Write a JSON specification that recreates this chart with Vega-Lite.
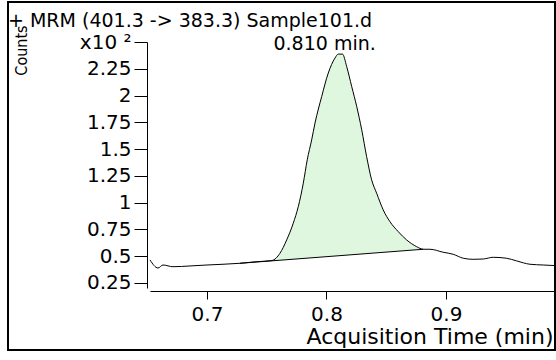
{
  "$schema": "https://vega.github.io/schema/vega-lite/v6.json",
  "width": 547,
  "height": 348,
  "autosize": {"type": "none"},
  "padding": {"left": 8, "top": 2, "right": 1, "bottom": 10},
  "background": "#ffffff",
  "title": {
    "text": "+ MRM (401.3 -> 383.3) Sample101.d",
    "anchor": "start",
    "frame": "group",
    "orient": "top",
    "offset": -23,
    "baseline": "alphabetic",
    "dx": 0,
    "dy": 21,
    "font": "DejaVu Sans",
    "fontSize": 19,
    "fontWeight": "normal",
    "color": "#000000"
  },
  "datasets": {
    "curve": [
      {"t": 0.6523, "c": 0.465},
      {"t": 0.6590, "c": 0.390},
      {"t": 0.6632, "c": 0.418},
      {"t": 0.6715, "c": 0.402},
      {"t": 0.6858, "c": 0.409},
      {"t": 0.7000, "c": 0.418},
      {"t": 0.7134, "c": 0.425},
      {"t": 0.7276, "c": 0.434},
      {"t": 0.7418, "c": 0.449},
      {"t": 0.7544, "c": 0.460},
      {"t": 0.7611, "c": 0.528},
      {"t": 0.7667, "c": 0.652},
      {"t": 0.7722, "c": 0.808},
      {"t": 0.7764, "c": 0.963},
      {"t": 0.7806, "c": 1.182},
      {"t": 0.7839, "c": 1.400},
      {"t": 0.7876, "c": 1.586},
      {"t": 0.7904, "c": 1.743},
      {"t": 0.7960, "c": 1.991},
      {"t": 0.8015, "c": 2.210},
      {"t": 0.8071, "c": 2.350},
      {"t": 0.8099, "c": 2.387},
      {"t": 0.8134, "c": 2.387},
      {"t": 0.8169, "c": 2.271},
      {"t": 0.8211, "c": 2.085},
      {"t": 0.8253, "c": 1.898},
      {"t": 0.8295, "c": 1.680},
      {"t": 0.8336, "c": 1.430},
      {"t": 0.8378, "c": 1.213},
      {"t": 0.8420, "c": 1.088},
      {"t": 0.8475, "c": 0.932},
      {"t": 0.8531, "c": 0.823},
      {"t": 0.8601, "c": 0.729},
      {"t": 0.8671, "c": 0.652},
      {"t": 0.8755, "c": 0.589},
      {"t": 0.8810, "c": 0.565},
      {"t": 0.8866, "c": 0.565},
      {"t": 0.8977, "c": 0.537},
      {"t": 0.9061, "c": 0.518},
      {"t": 0.9145, "c": 0.481},
      {"t": 0.9228, "c": 0.471},
      {"t": 0.9312, "c": 0.474},
      {"t": 0.9396, "c": 0.490},
      {"t": 0.9508, "c": 0.481},
      {"t": 0.9592, "c": 0.456},
      {"t": 0.9703, "c": 0.425},
      {"t": 0.9814, "c": 0.418},
      {"t": 0.9921, "c": 0.412}
    ],
    "peak": [
      {"t": 0.7276, "c": 0.434, "b": 0.434},
      {"t": 0.7418, "c": 0.449, "b": 0.446},
      {"t": 0.7544, "c": 0.460, "b": 0.457},
      {"t": 0.7611, "c": 0.528, "b": 0.463},
      {"t": 0.7667, "c": 0.652, "b": 0.467},
      {"t": 0.7722, "c": 0.808, "b": 0.472},
      {"t": 0.7764, "c": 0.963, "b": 0.476},
      {"t": 0.7806, "c": 1.182, "b": 0.479},
      {"t": 0.7839, "c": 1.400, "b": 0.482},
      {"t": 0.7876, "c": 1.586, "b": 0.485},
      {"t": 0.7904, "c": 1.743, "b": 0.488},
      {"t": 0.7960, "c": 1.991, "b": 0.492},
      {"t": 0.8015, "c": 2.210, "b": 0.497},
      {"t": 0.8071, "c": 2.350, "b": 0.502},
      {"t": 0.8099, "c": 2.387, "b": 0.504},
      {"t": 0.8134, "c": 2.387, "b": 0.507},
      {"t": 0.8169, "c": 2.271, "b": 0.510},
      {"t": 0.8211, "c": 2.085, "b": 0.514},
      {"t": 0.8253, "c": 1.898, "b": 0.517},
      {"t": 0.8295, "c": 1.680, "b": 0.521},
      {"t": 0.8336, "c": 1.430, "b": 0.525},
      {"t": 0.8378, "c": 1.213, "b": 0.528},
      {"t": 0.8420, "c": 1.088, "b": 0.532},
      {"t": 0.8475, "c": 0.932, "b": 0.536},
      {"t": 0.8531, "c": 0.823, "b": 0.541},
      {"t": 0.8601, "c": 0.729, "b": 0.547},
      {"t": 0.8671, "c": 0.652, "b": 0.553},
      {"t": 0.8755, "c": 0.589, "b": 0.560},
      {"t": 0.8810, "c": 0.565, "b": 0.565}
    ],
    "base": [
      {"t": 0.7276, "c": 0.434},
      {"t": 0.8810, "c": 0.565}
    ],
    "label": [
      {"t": 0.8110, "c": 2.387, "label": "0.810 min."}
    ]
  },
  "encoding": {
    "x": {
      "field": "t",
      "type": "quantitative",
      "scale": {"domain": [0.6523, 0.9921], "range": [142, 548], "nice": false, "zero": false},
      "axis": {
        "orient": "bottom",
        "offset": -59,
        "values": [0.7, 0.8, 0.9],
        "format": ".1f",
        "grid": false,
        "domainColor": "#000000",
        "tickColor": "#000000",
        "tickSize": 8,
        "labelPadding": 5,
        "labelFont": "DejaVu Sans",
        "labelFontSize": 20,
        "labelColor": "#000000",
        "title": "Acquisition Time (min)",
        "titleFont": "DejaVu Sans",
        "titleFontSize": 22,
        "titleFontWeight": "normal",
        "titleColor": "#000000",
        "titleX": 545,
        "titleY": 52,
        "titleAlign": "right",
        "titleBaseline": "alphabetic"
      }
    },
    "y": {
      "field": "c",
      "type": "quantitative",
      "scale": {"domain": [0.2033, 2.5], "range": [286, 40], "nice": false, "zero": false},
      "axis": {
        "orient": "left",
        "offset": -139,
        "values": [0.25, 0.5, 0.75, 1, 1.25, 1.5, 1.75, 2, 2.25, 2.5],
        "labelExpr": "datum.value >= 2.49 ? 'x10 ²' : format(datum.value, '~g')",
        "grid": false,
        "domainColor": "#000000",
        "tickColor": "#000000",
        "tickSize": 13,
        "labelPadding": 3,
        "labelFont": "DejaVu Sans",
        "labelFontSize": 20,
        "labelColor": "#000000",
        "title": "Counts",
        "titleFont": "'DejaVu Sans Condensed', 'Liberation Sans', sans-serif",
        "titleFontSize": 16,
        "titleFontWeight": "normal",
        "titleColor": "#000000",
        "titleAngle": -90,
        "titleX": -121,
        "titleY": 48,
        "titleAlign": "center",
        "titleBaseline": "alphabetic"
      }
    }
  },
  "layer": [
    {
      "data": {"name": "peak"},
      "mark": {"type": "area", "color": "#def7de", "interpolate": "monotone", "opacity": 1},
      "encoding": {"y2": {"field": "b"}}
    },
    {
      "data": {"name": "base"},
      "mark": {"type": "line", "color": "#000000", "strokeWidth": 1}
    },
    {
      "data": {"name": "curve"},
      "mark": {"type": "line", "color": "#000000", "strokeWidth": 1, "interpolate": "monotone"}
    },
    {
      "data": {"name": "label"},
      "mark": {"type": "text", "font": "DejaVu Sans", "fontSize": 19, "color": "#000000", "align": "center", "baseline": "alphabetic", "dx": -15, "dy": -4},
      "encoding": {"text": {"field": "label"}}
    }
  ],
  "config": {
    "view": {"stroke": "#000000", "strokeWidth": 2},
    "font": "DejaVu Sans"
  }
}
